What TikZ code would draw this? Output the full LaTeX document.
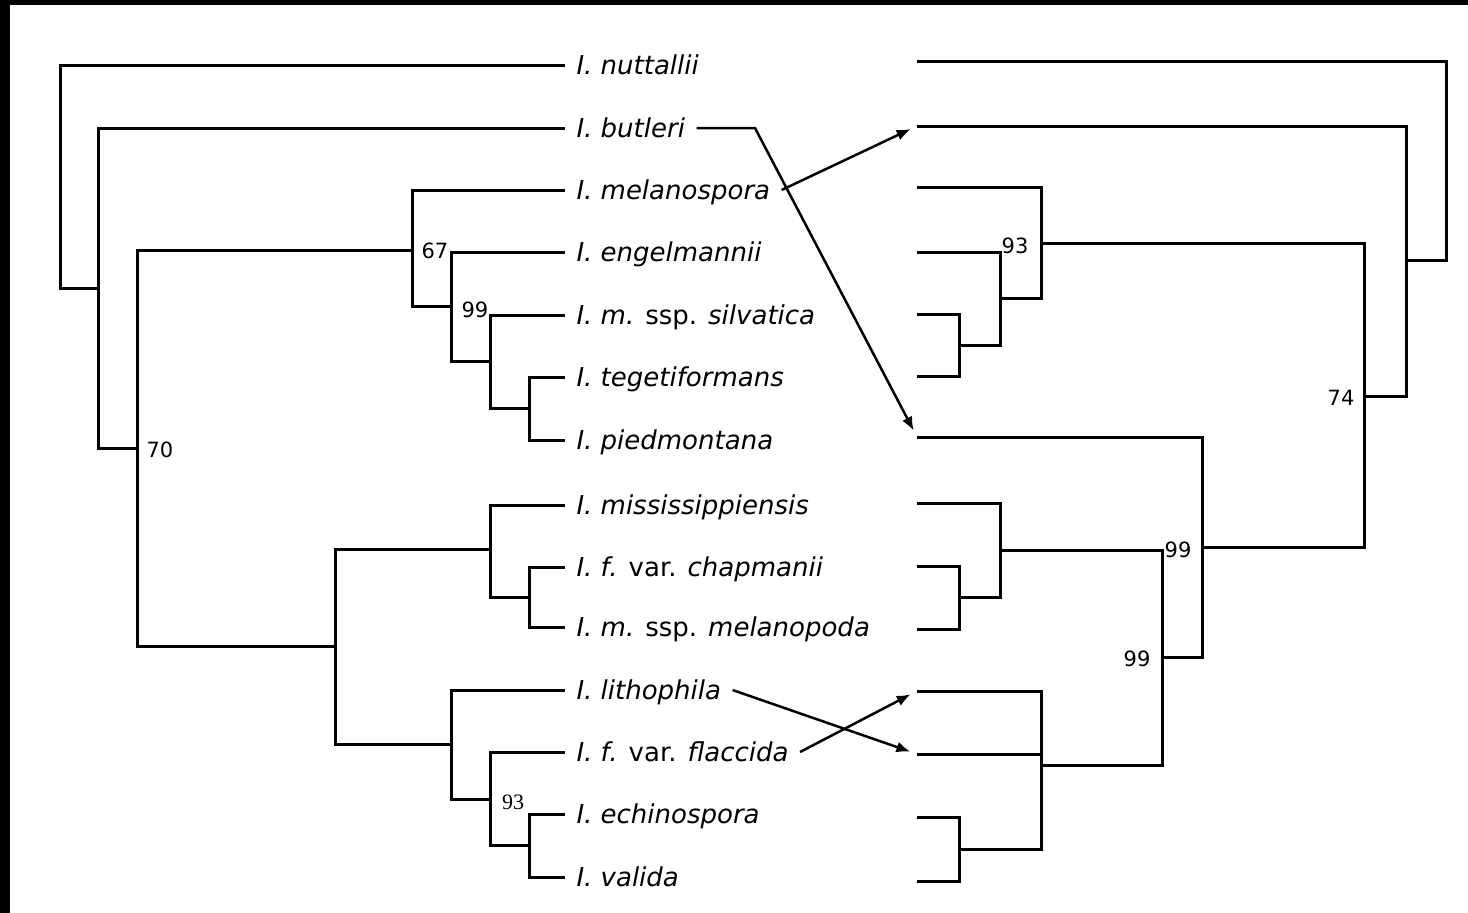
\documentclass[tikz,border=0pt]{standalone}
\usepackage{fontspec}
\newfontfamily\verdfont{DejaVu Sans}
\newfontfamily\timesfont{Liberation Serif}
\usetikzlibrary{arrows.meta}

\begin{document}
\begin{tikzpicture}[x=1pt,y=-1pt,line width=3pt,
         taxon node/.style={anchor=west,inner xsep=10pt,inner ysep=0pt,text height=18pt,text depth=0pt,
           font=\verdfont\fontsize{26}{30}\selectfont},
         support node/.style={inner sep=0pt,font=\verdfont\fontsize{21}{24}\selectfont},
         move arrow/.style={->,>={Latex[length=14pt,width=11pt]},line width=2.5pt,shorten >=7pt}]

     \useasboundingbox (0,0) rectangle (1468,913);
     \fill[black] (0,0) rectangle (1468,913);
     \fill[white] (10,5) rectangle (1468,913);

     \node[taxon node] (nut) at (565,65)  {\textit{I. nuttallii}};
     \node[taxon node] (but) at (565,128) {\textit{I. butleri}};
     \node[taxon node] (mel) at (565,190) {\textit{I. melanospora}};
     \node[taxon node] (eng) at (565,252) {\textit{I. engelmannii}};
     \node[taxon node] (sil) at (565,315) {\textit{I. m.} ssp. \textit{silvatica}};
     \node[taxon node] (teg) at (565,377) {\textit{I. tegetiformans}};
     \node[taxon node] (pie) at (565,440) {\textit{I. piedmontana}};
     \node[taxon node] (mis) at (565,505) {\textit{I. mississippiensis}};
     \node[taxon node] (cha) at (565,567) {\textit{I. f.} var. \textit{chapmanii}};
     \node[taxon node] (mpo) at (565,627) {\textit{I. m.} ssp. \textit{melanopoda}};
     \node[taxon node] (lit) at (565,690) {\textit{I. lithophila}};
     \node[taxon node] (fla) at (565,752) {\textit{I. f.} var. \textit{flaccida}};
     \node[taxon node] (ech) at (565,814) {\textit{I. echinospora}};
     \node[taxon node] (val) at (565,877) {\textit{I. valida}};

     \coordinate (a1)  at (60,177);
     \coordinate (a2)  at (98,288);
     \coordinate (a3)  at (137,448);
     \coordinate (a4)  at (412,250);
     \coordinate (a5)  at (451,306);
     \coordinate (a6)  at (490,361);
     \coordinate (a7)  at (529,408);
     \coordinate (a8)  at (335,646);
     \coordinate (a9)  at (490,549);
     \coordinate (a10) at (529,597);
     \coordinate (a11) at (451,744);
     \coordinate (a12) at (490,799);
     \coordinate (a13) at (529,845);

     \draw (nut.west) -| (a1) |- (a2);
     \draw (but.west) -| (a2) |- (a3);
     \draw (a4) -| (a3) |- (a8);
     \draw (mel.west) -| (a4) |- (a5);
     \draw (eng.west) -| (a5) |- (a6);
     \draw (sil.west) -| (a6) |- (a7);
     \draw (teg.west) -| (a7) |- (pie.west);
     \draw (a9) -| (a8) |- (a11);
     \draw (mis.west) -| (a9) |- (a10);
     \draw (cha.west) -| (a10) |- (mpo.west);
     \draw (lit.west) -| (a11) |- (a12);
     \draw (fla.west) -| (a12) |- (a13);
     \draw (ech.west) -| (a13) |- (val.west);

     \node[support node] (s70) at (160,450) {70};
     \node[support node] (s67) at (435,251) {67};
     \node[support node] (s99) at (475,310) {99};
     \node[support node,font=\timesfont\fontsize{22}{24}\selectfont] (s93) at (513,802) {93};

     \coordinate (r1)  at (917,61);
     \coordinate (r2)  at (917,126);
     \coordinate (r3)  at (917,187);
     \coordinate (r4)  at (917,252);
     \coordinate (r5)  at (917,314);
     \coordinate (r6)  at (917,376);
     \coordinate (r7)  at (917,437);
     \coordinate (r8)  at (917,503);
     \coordinate (r9)  at (917,566);
     \coordinate (r10) at (917,629);
     \coordinate (r11) at (917,691);
     \coordinate (r12) at (917,754);
     \coordinate (r13) at (917,817);
     \coordinate (r14) at (917,881);

     \coordinate (b1)  at (959,345);
     \coordinate (b2)  at (1000,298);
     \coordinate (b3)  at (1041,243);
     \coordinate (b4)  at (959,597);
     \coordinate (b5)  at (1000,550);
     \coordinate (b6)  at (959,849);
     \coordinate (b7)  at (1041,765);
     \coordinate (b8)  at (1162,657);
     \coordinate (b9)  at (1202,547);
     \coordinate (b10) at (1364,396);
     \coordinate (b11) at (1406,260);
     \coordinate (b12) at (1446,160);

     \draw (r1) -| (b12) |- (b11);
     \draw (r2) -| (b11) |- (b10);
     \draw (b3) -| (b10) |- (b9);
     \draw (r3) -| (b3) |- (b2);
     \draw (r4) -| (b2) |- (b1);
     \draw (r5) -| (b1) |- (r6);
     \draw (r7) -| (b9) |- (b8);
     \draw (b5) -| (b8) |- (b7);
     \draw (r8) -| (b5) |- (b4);
     \draw (r9) -| (b4) |- (r10);
     \draw (r11) -| (b7) |- (b6);
     \draw (r12) -- (r12 -| b7);
     \draw (r13) -| (b6) |- (r14);

     \node[support node] (t93) at (1015,246) {93};
     \node[support node] (t74) at (1341,398) {74};
     \node[support node] (t99a) at (1178,550) {99};
     \node[support node] (t99b) at (1137,659) {99};

     \coordinate (kink) at (755,128);
     \draw[move arrow] (but.east) -- (kink) -- (r7);
     \draw[move arrow] (mel.east) -- (r2);
     \draw[move arrow] (lit.east) -- (r12);
     \draw[move arrow] (fla.east) -- (r11);
 \end{tikzpicture}
\end{document}
